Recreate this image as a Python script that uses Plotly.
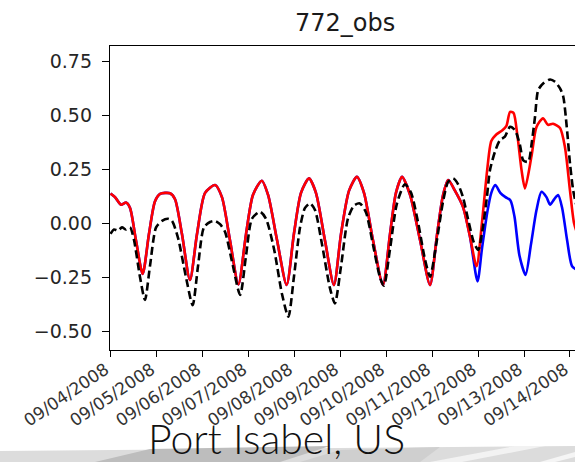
import pandas as pd
import plotly.graph_objects as go

# ---------------- data (hours after 2008-09-04 00:00, water level) ----------------
start = pd.Timestamp("2008-09-04 00:00")

common_hours = [0.0, 2.35, 5.48, 8.1, 10.2, 13.3, 16.8, 20.1, 23.2, 25.9, 31.1, 33.7, 37.3, 41.5,
                45.2, 49.4, 54.6, 58.2, 62.4, 66.8, 70.8, 74.4, 79.0, 82.3, 87.0, 92.0, 95.8,
                99.5, 103.7, 107.3, 112.0, 116.7, 120.4, 124.6, 128.7, 132.4, 137.1, 142.3,
                146.0, 149.1, 152.3, 156.5, 161.7, 166.9, 170.6, 173.7, 176.4, 179.9, 184.1, 187.7]
common_vals = [0.137, 0.12, 0.085, 0.095, 0.07, -0.08, -0.236, -0.05, 0.10, 0.135, 0.138, 0.11, -0.05, -0.264,
               -0.05, 0.14, 0.176, 0.12, -0.08, -0.284, -0.05, 0.13, 0.196, 0.13, -0.08, -0.287, -0.05,
               0.14, 0.207, 0.14, -0.08, -0.287, -0.05, 0.15, 0.214, 0.14, -0.08, -0.287,
               -0.05, 0.14, 0.214, 0.13, -0.08, -0.287, -0.05, 0.13, 0.199, 0.15, 0.075, -0.06]

red_tail_hours = [191.2, 194.0, 196.8, 198.9, 201.5, 204.7, 206.8, 208.7, 210.5, 212.6, 214.7, 216.5,
                  219.9, 222.5, 225.9, 228.5, 231.1, 234.8, 237.4, 240.0, 242.1, 244.2]
red_tail_vals = [-0.20, 0.0, 0.25, 0.38, 0.41, 0.43, 0.45, 0.515, 0.51, 0.40, 0.245, 0.16,
                 0.31, 0.445, 0.485, 0.455, 0.46, 0.44, 0.35, 0.15, 0.0, -0.06]

blue_tail_hours = [191.7, 194.0, 196.8, 198.9, 201.0, 203.6, 206.3, 208.9, 211.0, 213.6, 216.8, 219.6,
                   222.5, 225.1, 227.7, 229.6, 231.7, 233.8, 235.9, 238.5, 241.1, 244.2]
blue_tail_vals = [-0.27, -0.12, 0.05, 0.14, 0.176, 0.14, 0.12, 0.105, 0.03, -0.15, -0.24, -0.1,
                  0.06, 0.145, 0.12, 0.085, 0.11, 0.13, 0.07, -0.08, -0.2, -0.22]

obs_hours = [0.0, 1.8, 3.9, 6.0, 8.1, 10.2, 12.3, 15.4, 18.0, 20.6, 23.8, 26.9, 30.0, 32.1, 35.3, 39.4,
             42.9, 45.7, 48.8, 52.0, 54.6, 57.2, 59.8, 63.5, 67.7, 70.8, 73.9, 78.1, 81.2, 85.4, 89.6,
             92.9, 95.8, 99.0, 101.6, 104.2, 106.8, 110.5, 114.6, 117.2, 120.4, 124.0, 127.1, 130.2,
             133.4, 137.1, 140.7, 142.8, 146.0, 149.6, 153.8, 157.0, 160.7, 164.3, 166.9, 170.1,
             173.7, 176.3, 179.0, 181.5, 184.1, 186.7, 189.8, 192.1, 194.0, 196.6, 198.2, 200.8,
             203.4, 206.0, 208.7, 211.3, 213.9, 215.6, 218.2, 220.0, 221.7, 223.4, 226.1, 229.6,
             232.2, 234.8, 236.5, 238.3, 240.0, 241.7, 244.2]
obs_vals = [-0.05, -0.03, -0.035, -0.02, -0.03, -0.02, -0.08, -0.25, -0.356, -0.2, -0.02, 0.01, 0.02, 0.01, -0.07, -0.25,
            -0.38, -0.2, -0.02, 0.005, 0.01, -0.005, -0.04, -0.18, -0.333, -0.15, 0.02, 0.052, 0.02, -0.12, -0.33,
            -0.434, -0.25, -0.02, 0.07, 0.091, 0.06, -0.1, -0.3, -0.372, -0.2, 0.02, 0.08, 0.091,
            0.05, -0.1, -0.25, -0.29, -0.12, 0.09, 0.18, 0.14, 0.0, -0.17, -0.248, -0.1,
            0.1, 0.19, 0.207, 0.18, 0.12, 0.02, -0.09, -0.125, -0.05, 0.12, 0.245, 0.33,
            0.384, 0.40, 0.446, 0.43, 0.36, 0.29, 0.284, 0.37, 0.49, 0.616, 0.647, 0.665,
            0.654, 0.624, 0.585, 0.446, 0.276, 0.15, 0.05]

tick_dates = ["2008-09-%02d" % d for d in range(4, 15)]
tick_labels = ["09/%02d/2008" % d for d in range(4, 15)]
y_ticks = [-0.5, -0.25, 0.0, 0.25, 0.5, 0.75]
y_tick_labels = ["\u22120.50", "\u22120.25", "0.00", "0.25", "0.50", "0.75"]

title_text = "772_obs"
caption_text = "Port Isabel, US"


def to_time(hours):
    return [start + pd.Timedelta(hours=h) for h in hours]


blue_x = to_time(common_hours + blue_tail_hours)
blue_y = common_vals + blue_tail_vals
red_x = to_time(common_hours + red_tail_hours)
red_y = common_vals + red_tail_vals
obs_x = to_time(obs_hours)

# ---------------- layout geometry ----------------
W, H = 575, 462
ML, MR, MT, MB = 110, 0, 46, 112
PW, PH = W - ML - MR, H - MT - MB


def px(x):
    return (x - ML) / PW


def py(y):
    return (H - MB - y) / PH


fig = go.Figure()
line_w = 2.6
fig.add_trace(go.Scatter(x=blue_x, y=blue_y, mode="lines",
                         line=dict(color="#0000ff", width=line_w, shape="spline", smoothing=0.7),
                         showlegend=False, hoverinfo="skip"))
fig.add_trace(go.Scatter(x=red_x, y=red_y, mode="lines",
                         line=dict(color="#ff0000", width=line_w, shape="spline", smoothing=0.7),
                         showlegend=False, hoverinfo="skip"))
fig.add_trace(go.Scatter(x=obs_x, y=obs_vals, mode="lines",
                         line=dict(color="#000000", width=line_w, dash="8px,4px", shape="spline", smoothing=0.7),
                         showlegend=False, hoverinfo="skip"))

tick_font = dict(family="DejaVu Sans", size=19, color="#262626")

fig.update_layout(
    width=W, height=H,
    margin=dict(l=ML, r=MR, t=MT, b=MB, pad=0),
    paper_bgcolor="white", plot_bgcolor="white",
    showlegend=False,
    xaxis=dict(type="date", range=["2008-09-03 23:44", "2008-09-14 02:37"],
               tickmode="array", tickvals=tick_dates, ticktext=tick_labels,
               tickangle=-34, tickfont=dict(family="DejaVu Sans", size=17, color="#333333"),
               ticklabeloverflow="allow", ticklabelstandoff=-4, ticklabelshift=-5,
               ticks="outside", ticklen=6, tickwidth=1.3, tickcolor="black",
               showline=True, linecolor="black", linewidth=1.4, mirror=True,
               showgrid=False, zeroline=False, automargin=False),
    yaxis=dict(range=[-0.588, 0.820], tickmode="array", tickvals=y_ticks, ticktext=y_tick_labels,
               tickfont=tick_font, ticks="outside", ticklen=7, tickwidth=1.3, tickcolor="black",
               ticklabelstandoff=6,
               showline=True, linecolor="black", linewidth=1.4, mirror=False,
               showgrid=False, zeroline=False, automargin=False),
)

# title
fig.add_annotation(text=title_text, xref="paper", yref="paper", x=px(345), y=py(23),
                   xanchor="center", yanchor="middle", showarrow=False,
                   font=dict(family="DejaVu Sans", size=24, color="#1a1a1a"))

# decorative grey swoosh at the bottom
shapes = [
    ([(0, 451), (575, 446), (575, 462), (0, 462)], "#dcdcdc"),
    ([(95, 462), (150, 449), (330, 446), (280, 462)], "#bdbdbd"),
    ([(300, 462), (340, 450), (440, 447), (420, 462)], "#cfcfcf"),
    ([(430, 462), (515, 446), (545, 446), (462, 462)], "#f2f2f2"),
    ([(540, 462), (575, 452), (575, 457), (555, 462)], "#f5f5f5"),
]
for pts, col in shapes:
    path = "M " + " L ".join("%.4f,%.4f" % (px(x), py(y)) for x, y in pts) + " Z"
    fig.add_shape(type="path", path=path, xref="paper", yref="paper",
                  fillcolor=col, line=dict(width=0), layer="below")

fig.add_annotation(text=caption_text, xref="paper", yref="paper", x=px(276), y=py(438),
                   xanchor="center", yanchor="middle", showarrow=False,
                   font=dict(family="Lato", size=41, color="#111111", weight=300))

fig.write_html("out.html")
